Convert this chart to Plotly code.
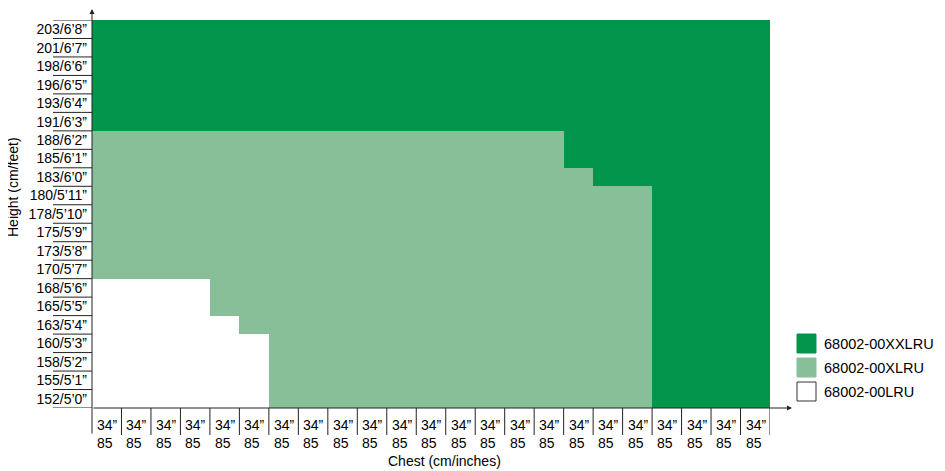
from plotly import graph_objects as go

# row labels, bottom to top
heights_cm = [152, 155, 158, 160, 163, 165, 168, 170, 173, 175, 178,
              180, 183, 185, 188, 191, 193, 196, 198, 201, 203]
heights_ft = ['5’0”', '5’1”', '5’2”', '5’3”', '5’4”', '5’5”', '5’6”',
              '5’7”', '5’8”', '5’9”', '5’10”', '5’11”', '6’0”', '6’1”',
              '6’2”', '6’3”', '6’4”', '6’5”', '6’6”', '6’7”', '6’8”']

# column labels (the source repeats the same placeholder)
chest_in = ['34”'] * 23
chest_cm = ['85'] * 23

# tallest height (cm) covered by each size, per chest column (0 = none)
lru_top_cm = [168, 168, 168, 168, 163, 160, 0, 0, 0, 0, 0, 0,
              0, 0, 0, 0, 0, 0, 0, 0, 0, 0, 0]
xl_top_cm = [188, 188, 188, 188, 188, 188, 188, 188, 188, 188, 188, 188,
             188, 188, 188, 188, 183, 180, 180, 0, 0, 0, 0]

sizes = ['68002-00XXLRU', '68002-00XLRU', '68002-00LRU']
colors = ['#00954a', '#88bf99', '#ffffff']

# 0 = LRU, 1 = XLRU, 2 = XXLRU
z = []
for h in heights_cm:
    row = []
    for c in range(len(chest_in)):
        if h <= lru_top_cm[c]:
            row.append(0)
        elif h <= xl_top_cm[c]:
            row.append(1)
        else:
            row.append(2)
    z.append(row)

W, H = 945, 471
OFF = 8  # page body margin
L, R, T, B = 92 - OFF, 770 - OFF, 20 - OFF, 408 - OFF
font = 'Arial, Liberation Sans, sans-serif'
ink = '#222222'
fs = 14


# reference-picture pixels -> paper coords
def px(x):
    return (x - OFF - L) / (R - L)


def py(y):
    return (B - (y - OFF)) / (B - T)


ncol = len(chest_in)
nrow = len(heights_cm)

fig = go.Figure()

fig.add_trace(
    go.Heatmap(
        z = z,
        x = list(range(ncol)),
        y = list(range(nrow)),
        zmin = 0,
        zmax = 2,
        colorscale = [
            [0, colors[2]], [1/3, colors[2]],
            [1/3, colors[1]], [2/3, colors[1]],
            [2/3, colors[0]], [1, colors[0]],
        ],
        showscale = False,
        hoverinfo = 'skip',
    )
)

shapes = []
annotations = []

# horizontal rules under the height labels
for j in range(nrow + 1):
    shapes.append(dict(
        type = 'line', xref = 'paper', yref = 'y',
        x0 = px(53), x1 = 0, y0 = j - 0.5, y1 = j - 0.5,
        line = dict(color = ink, width = 1),
    ))

# vertical rules between chest labels
for i in range(1, ncol + 1):
    shapes.append(dict(
        type = 'line', xref = 'x', yref = 'paper',
        x0 = i - 0.5, x1 = i - 0.5, y0 = 0, y1 = py(435),
        line = dict(color = ink, width = 1),
    ))

# chest labels
for i in range(ncol):
    annotations.append(dict(
        x = i - 0.5, y = 0, xref = 'x', yref = 'paper',
        xanchor = 'left', yanchor = 'top', xshift = 3, yshift = -7,
        align = 'left', showarrow = False,
        text = chest_in[i] + '<br>' + chest_cm[i],
        font = dict(family = font, size = fs, color = 'black'),
    ))

# axis arrows
annotations.append(dict(
    x = px(792), y = 0, xref = 'paper', yref = 'paper',
    ax = -(792 - 92), ay = 0, axref = 'pixel', ayref = 'pixel',
    text = '', showarrow = True, arrowhead = 2, arrowsize = 1,
    arrowwidth = 1, arrowcolor = ink,
))
annotations.append(dict(
    x = 0, y = py(5), xref = 'paper', yref = 'paper',
    ax = 0, ay = 435 - 5, axref = 'pixel', ayref = 'pixel',
    text = '', showarrow = True, arrowhead = 2, arrowsize = 1,
    arrowwidth = 1, arrowcolor = ink,
))

# axis titles
annotations.append(dict(
    x = px(444), y = py(461), xref = 'paper', yref = 'paper',
    xanchor = 'center', yanchor = 'middle',
    text = 'Chest (cm/inches)', showarrow = False,
    font = dict(family = font, size = fs, color = 'black'),
))
annotations.append(dict(
    x = px(13), y = py(187), xref = 'paper', yref = 'paper',
    xanchor = 'center', yanchor = 'middle',
    text = 'Height (cm/feet)', textangle = -90, showarrow = False,
    font = dict(family = font, size = fs, color = 'black'),
))

# legend
for k, name in enumerate(sizes):
    cy = 343.5 + 24 * k
    shapes.append(dict(
        type = 'rect', xref = 'paper', yref = 'paper',
        x0 = px(797), x1 = px(816), y0 = py(cy - 9.5), y1 = py(cy + 9.5),
        fillcolor = colors[k],
        line = dict(color = '#333333' if k == 2 else colors[k], width = 1),
    ))
    annotations.append(dict(
        x = px(822), y = py(cy), xref = 'paper', yref = 'paper',
        xanchor = 'left', yanchor = 'middle', text = name, showarrow = False,
        font = dict(family = font, size = 14.5, color = 'black'),
    ))

fig.update_layout(
    width = W,
    height = H,
    margin = dict(l = L, r = W - R, t = T, b = H - B, pad = 0),
    paper_bgcolor = 'white',
    plot_bgcolor = 'white',
    showlegend = False,
    shapes = shapes,
    annotations = annotations,
    xaxis = dict(
        range = [-0.5, ncol - 0.5],
        showticklabels = False, showgrid = False, zeroline = False,
        showline = False, ticks = '', fixedrange = True,
    ),
    yaxis = dict(
        range = [-0.5, nrow - 0.5],
        tickvals = list(range(nrow)),
        ticktext = ['%d/%s' % (c, f) for c, f in zip(heights_cm, heights_ft)],
        tickfont = dict(family = font, size = fs, color = 'black'),
        showgrid = False, zeroline = False, showline = False,
        ticks = '', ticklabelstandoff = 4, fixedrange = True,
    ),
)

fig.write_html('out.html')
